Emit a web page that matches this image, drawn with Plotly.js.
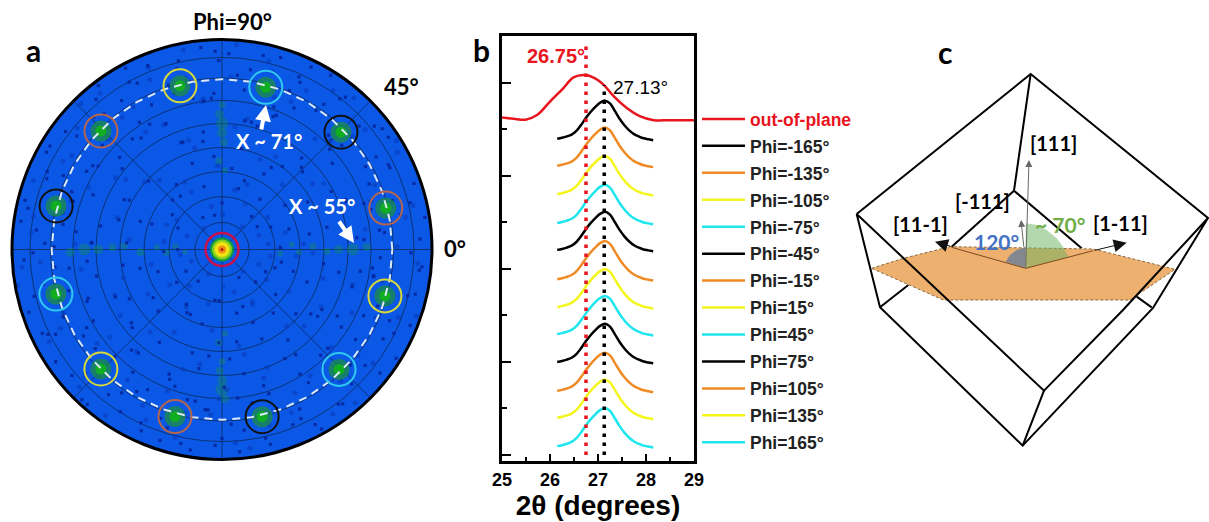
<!DOCTYPE html>
<html><head><meta charset="utf-8">
<script src="https://cdn.plot.ly/plotly-3.0.1.min.js"></script>
<style>html,body{margin:0;padding:0;background:#fff}#g{width:1209px;height:522px}</style>
</head><body><div id="g"></div>
<script>
// ---------- panel a: pole figure ----------
const gridChi=[11.6,22.7,33.4,43.7,54,63.9,73.5,82.3];
const spokeAngles=[0,45,90,135,180,225,270,315];
const ringTheta=[0,10,20,30,40,50,60,70,80,90,100,110,120,130,140,150,160,170,180,190,200,210,220,230,240,250,260,270,280,290,300,310,320,330,340,350,360];
const ringChi=73;
const peakPhi=[74.9,44.6,14.2,-15.9,-45.7,-76.5,-105.7,-135.4,-165,165.3,135.6,104.4];
const peakChi=[72,71.6,72.4,72.6,71.8,73.7,74.4,72.9,73.7,73.5,72.6,72.4];
const peakRing=['#2fc8ee','#111111','#b5654c','#d8d83a','#2fc8ee','#111111','#b5654c','#d8d83a','#2fc8ee','#111111','#b5654c','#d8d83a'];
const patchPhi=[90,90,91,89,90,270,270,271,269,270,180,180,181,179,178,182,0,0,1,359,2,358,178,183,176,184,4,356,92,88,268,272];
const patchChi=[50,54,58,46,62,56,60,64,52,48,53,59,65,47,42,35,50,56,62,45,39,33,28,24,20,16,30,25,38,34,40,36];
const patchSize=[10,12,9,8,7,10,13,9,8,7,10,12,9,8,7,8,9,12,8,7,7,6,6,7,6,5,6,6,7,6,7,6];
const speckPhi=[3,11,19,27,34,42,51,58,66,73,81,88,96,104,112,119,127,134,143,151,158,166,174,183,191,198,206,214,222,229,238,246,253,261,268,277,284,292,299,307,314,322,331,338,346,354,
7,15,24,31,47,55,63,70,85,93,101,108,116,123,131,139,147,155,162,171,178,187,195,203,210,218,226,234,242,250,257,265,273,281,288,296,303,311,318,326,335,342,350,357,
5,22,38,49,68,77,99,114,129,141,157,169,185,201,219,231,248,259,271,287,305,317,329,344,
12,29,44,61,79,95,110,125,137,153,176,193,208,224,236,255,263,279,294,309,324,339,352,
2,17,33,53,72,90,106,121,145,160,180,199,216,233,244,267,283,301,320,333,348,
9,37,64,92,118,149,172,205,227,252,275,298,328,355,
14,26,39,52,65,78,91,103,117,130,142,156,168,181,194,207,220,232,245,258,270,283,295,308,321,334,347,359,
6,18,30,43,56,69,82,94,107,120,133,146,159,173,186,200,212,225,239,251,264,276,289,302,315,327,340,353,
21,46,74,100,126,152,177,204,228,254,280,306,330,349,
10,35,59,83,109,135,161,189,215,241,268,293,319,343,
4,16,28,41,54,67,80,97,111,124,138,150,164,179,192,209,221,235,247,260,274,286,300,313,325,337,351,
25,48,75,102,128,154,182,211,237,262,290,316,341];
const speckChi=[85,78,87,80,86,79,84,88,81,86,78,84,87,80,85,82,88,79,84,86,81,87,80,85,78,87,83,86,79,88,82,85,80,87,84,78,86,81,88,83,80,86,79,87,82,85,
68,66,69,77,67,76,68,65,75,67,66,74,69,65,77,68,66,75,67,69,76,66,68,74,67,69,76,65,68,77,66,69,75,67,65,76,68,66,74,69,67,75,66,68,
58,57,60,52,62,56,51,59,61,55,60,53,58,62,50,57,60,52,59,61,55,62,50,58,
46,42,48,37,44,40,49,34,43,47,41,36,45,38,48,33,46,40,42,35,47,39,44,
25,30,18,27,31,20,28,16,26,32,19,29,24,17,31,22,28,14,30,21,26,
88,86,87,85,88,86,87,85,88,86,87,85,88,86,
83,80,84,82,79,85,81,83,80,84,79,82,85,81,83,80,84,79,82,85,81,83,80,84,79,82,85,81,
70,64,71,63,72,61,69,65,70,62,71,64,69,63,72,61,70,65,71,62,69,64,72,63,70,61,71,65,
57,49,55,47,59,45,56,50,58,46,54,48,57,51,
38,33,41,35,39,30,37,43,36,31,40,34,42,32,
61,76,53,68,44,74,56,64,49,77,59,67,46,72,55,63,51,75,58,66,47,73,54,62,50,78,60,
23,19,27,15,29,21,25,18,28,22,26,20,24];
const mottlePhi=[1,8,13,20,23,32,36,40,45,49,57,62,67,71,76,84,87,98,101,105,113,115,122,128,132,136,140,144,148,155,160,163,167,175,177,184,188,190,196,202,208,213,217,223,230,235,240,243,249,256,259,266,272,278,282,285,291,297,304,310,312,318,323,330,336,341,345,350,356,358,
4,10,15,18,29,33,41,47,50,55,60,65,69,74,79,86,93,97,102,107,112,119,123,127,134,139,146,151,156,162,170,174,178,185,192,197,203,206,211,218,224,229,234,238,246,252,257,263,269,274,280,288,293,299,305,311,317,322,328,334,339,344,349,355,
7,21,35,48,63,78,89,104,118,131,147,159,172,187,201,214,228,241,256,272,286,300,314,326,338,352];
const mottleChi=[75,62,84,55,71,88,48,80,66,86,58,77,42,69,83,53,74,64,87,45,79,59,72,85,40,68,81,51,76,63,86,47,70,82,56,78,61,89,44,73,84,52,67,80,57,87,41,75,65,83,50,71,60,86,46,78,54,69,85,43,76,63,81,49,72,88,58,66,84,39,
35,80,28,67,86,52,74,38,62,83,46,70,30,79,57,88,36,65,75,49,84,33,60,71,87,44,55,78,26,68,82,40,63,86,31,73,50,77,37,61,85,47,69,29,80,54,72,35,64,83,42,58,76,27,66,87,48,74,34,62,81,45,70,32,
20,17,24,13,22,26,15,19,28,12,23,16,25,18,14,27,21,12,24,16,19,26,13,23,17,21];
// ---------- panel b: theta-2theta profiles ----------
const twoTheta=[26.15,26.25,26.35,26.45,26.55,26.65,26.75,26.85,26.95,27.05,27.15,27.25,27.35,27.45,27.55,27.65,27.75,27.85,27.95,28.05,28.15];
const oopTheta=[25,25.24,25.49,25.73,26,26.28,26.49,26.74,26.94,27.12,27.33,27.6,27.88,28.16,28.5,29];
const oopIntensity=[7.26,7.23,7.21,7.31,7.6,7.89,8.12,8.17,8.1,7.96,7.71,7.46,7.28,7.2,7.2,7.2];
const phim165=[6.80,6.82,6.85,6.89,6.97,7.10,7.25,7.38,7.49,7.58,7.62,7.56,7.40,7.23,7.09,6.98,6.90,6.85,6.81,6.79,6.77];
const phim135=[6.22,6.24,6.27,6.31,6.39,6.52,6.67,6.80,6.91,7.00,7.04,6.98,6.82,6.65,6.51,6.40,6.32,6.27,6.23,6.21,6.19];
const phim105=[5.61,5.63,5.66,5.70,5.78,5.91,6.06,6.19,6.30,6.39,6.43,6.37,6.21,6.04,5.90,5.79,5.71,5.66,5.62,5.60,5.58];
const phim75=[4.99,5.01,5.04,5.08,5.16,5.29,5.44,5.57,5.68,5.77,5.81,5.75,5.59,5.42,5.28,5.17,5.09,5.04,5.00,4.98,4.96];
const phim45=[4.41,4.43,4.46,4.50,4.58,4.71,4.86,4.99,5.10,5.19,5.23,5.17,5.01,4.84,4.70,4.59,4.51,4.46,4.42,4.40,4.38];
const phim15=[3.78,3.80,3.83,3.87,3.95,4.08,4.23,4.36,4.47,4.56,4.60,4.54,4.38,4.21,4.07,3.96,3.88,3.83,3.79,3.77,3.75];
const phi15=[3.18,3.20,3.23,3.27,3.35,3.48,3.63,3.76,3.87,3.96,4.00,3.94,3.78,3.61,3.47,3.36,3.28,3.23,3.19,3.17,3.15];
const phi45=[2.60,2.62,2.65,2.69,2.77,2.90,3.05,3.18,3.29,3.38,3.42,3.36,3.20,3.03,2.89,2.78,2.70,2.65,2.61,2.59,2.57];
const phi75=[2.00,2.02,2.05,2.09,2.17,2.30,2.45,2.58,2.69,2.78,2.82,2.76,2.60,2.43,2.29,2.18,2.10,2.05,2.01,1.99,1.97];
const phi105=[1.38,1.40,1.43,1.47,1.55,1.68,1.83,1.96,2.07,2.16,2.20,2.14,1.98,1.81,1.67,1.56,1.48,1.43,1.39,1.37,1.35];
const phi135=[0.80,0.82,0.85,0.89,0.97,1.10,1.25,1.38,1.49,1.58,1.62,1.56,1.40,1.23,1.09,0.98,0.90,0.85,0.81,0.79,0.77];
const phi165=[0.19,0.21,0.24,0.28,0.36,0.49,0.64,0.77,0.88,0.97,1.01,0.95,0.79,0.62,0.48,0.37,0.29,0.24,0.20,0.18,0.16];
const profiles=[phim165,phim135,phim105,phim75,phim45,phim15,phi15,phi45,phi75,phi105,phi135,phi165];
const profileNames=['-165','-135','-105','-75','-45','-15','15','45','75','105','135','165'];
const profileColors=['#000000','#f08a24','#f5f51e','#1ee6ee','#000000','#f08a24','#f5f51e','#1ee6ee','#000000','#f08a24','#f5f51e','#1ee6ee'];
// ---------- panel c: crystal sketch ----------
const backX=[572,522,null,522,330,null,522,725,null,120,205,null,935,890];
const backY=[42,392,null,392,565,null,392,565,null,742,675,null,742,710];
const planeX=[95,190,330,760,1005,870,310,95];
const planeY=[625,595,560,567,628,720,720,625];
const frontX=[50,572,1104,849,612,50,120,548,939,1104,null,612,548];
const frontY=[462,42,474,750,992,462,742,1157,744,474,null,992,1157];
const bondX=[335,557,760];
const bondY=[562,625,572];
const greenX=[557,557,590,620,650,672,685];
const greenY=[625,490,495,510,535,565,590];
const grayX=[557,497,510,530,557];
const grayY=[625,605,585,570,562];

const S='Liberation Sans', C='Lato';
const traces=[];
// a
traces.push({type:'scatterpolar',subplot:'polar',mode:'markers',r:patchChi,theta:patchPhi,showlegend:false,hoverinfo:'skip',
  marker:{size:patchSize,color:'#128a5c',opacity:0.42,line:{width:0}}});
traces.push({type:'scatterpolar',subplot:'polar',mode:'markers',r:mottleChi,theta:mottlePhi,showlegend:false,hoverinfo:'skip',
  marker:{size:5,color:'#0838b8',opacity:0.55,line:{width:0}}});
traces.push({type:'scatterpolar',subplot:'polar',mode:'markers',r:speckChi,theta:speckPhi,showlegend:false,hoverinfo:'skip',
  marker:{size:3.2,symbol:'square',color:'#04249c',opacity:0.88,line:{width:0}}});
traces.push({type:'scatterpolar',subplot:'polar',mode:'markers',r:peakChi,theta:peakPhi,showlegend:false,hoverinfo:'skip',
  marker:{size:21,color:'#1a8a4c',opacity:0.8,line:{width:0}}});
traces.push({type:'scatterpolar',subplot:'polar',mode:'markers',r:peakChi,theta:peakPhi,showlegend:false,hoverinfo:'skip',
  marker:{size:11,color:'#10ae20',line:{width:0}}});
traces.push({type:'scatterpolar',subplot:'polar',mode:'lines',r:ringTheta.map(()=>ringChi),theta:ringTheta,showlegend:false,hoverinfo:'skip',
  line:{color:'#dbe8fb',width:2,dash:'8px,6px'}});
traces.push({type:'scatterpolar',subplot:'polar',mode:'markers',r:peakChi,theta:peakPhi,showlegend:false,hoverinfo:'skip',
  marker:{size:33,symbol:'circle-open',color:peakRing,line:{width:2,color:peakRing}}});
[[24,'#129a3a'],[20,'#8cd020'],[15,'#f2e412'],[8,'#f09010'],[3,'#b02010']].forEach(m=>{
  traces.push({type:'scatterpolar',subplot:'polar',mode:'markers',r:[0],theta:[0],showlegend:false,hoverinfo:'skip',marker:{size:m[0],color:m[1],line:{width:0}}});
});
traces.push({type:'scatterpolar',subplot:'polar',mode:'markers',r:[0],theta:[0],showlegend:false,hoverinfo:'skip',
  marker:{size:33,symbol:'circle-open',color:'#c8104a',line:{width:2.5,color:'#c8104a'}}});
// b
traces.push({x:oopTheta,y:oopIntensity,xaxis:'x2',yaxis:'y2',mode:'lines',line:{color:'#e8141e',width:2.5,shape:'spline'},
  name:'<span style="color:#e8141e">out-of-plane</span>',legendgroup:'oop'});
profiles.forEach((p,i)=>traces.push({x:twoTheta,y:p,xaxis:'x2',yaxis:'y2',mode:'lines',
  line:{color:profileColors[i],width:2.5,shape:'spline'},name:'Phi='+profileNames[i]+'°',legendgroup:'g'+i}));
traces.push({x:[26.75,26.75],y:[0,8.9],xaxis:'x2',yaxis:'y2',mode:'lines',showlegend:false,hoverinfo:'skip',
  line:{color:'#e8141e',width:3.5,dash:'3.5px,5.5px'}});
traces.push({x:[27.13,27.13],y:[0,7.95],xaxis:'x2',yaxis:'y2',mode:'lines',showlegend:false,hoverinfo:'skip',
  line:{color:'#000000',width:3.5,dash:'3.5px,5.5px'}});
// c
const cT={xaxis:'x3',yaxis:'y3',showlegend:false,hoverinfo:'skip'};
traces.push({...cT,x:backX,y:backY,mode:'lines',line:{color:'#000',width:2}});
traces.push({...cT,x:planeX,y:planeY,mode:'lines',fill:'toself',fillcolor:'#eeb06e',line:{color:'#8a6a40',width:1,dash:'3px,2px'}});
traces.push({...cT,x:grayX,y:grayY,mode:'lines',fill:'toself',fillcolor:'rgba(112,128,150,0.85)',line:{width:0}});
traces.push({...cT,x:greenX,y:greenY,mode:'lines',fill:'toself',fillcolor:'rgba(110,180,100,0.52)',line:{width:0}});
traces.push({...cT,x:bondX,y:bondY,mode:'lines',line:{color:'#7a4a22',width:1}});
traces.push({...cT,x:frontX,y:frontY,mode:'lines',line:{color:'#000',width:2}});

const px=v=>v/1209, py=v=>1-v/522;
const pa=(text,x,y,size,color,fam,bold)=>({text:bold===false?text:'<b>'+text+'</b>',xref:'paper',yref:'paper',x:px(x),y:py(y),xanchor:'center',yanchor:'middle',showarrow:false,
  font:{family:fam||C,size:size,color:color||'#000'}});
const ca=(text,x,y,size,color)=>({text:'<b>'+text+'</b>',xref:'x3',yref:'y3',x:x,y:y,xanchor:'center',yanchor:'middle',showarrow:false,
  font:{family:C,size:size,color:color||'#000'}});
const arrow=(x0,y0,x1,y1,color,w,size,h)=>({xref:'x3',yref:'y3',axref:'x3',ayref:'y3',x:x1,y:y1,ax:x0,ay:y0,text:'',showarrow:true,arrowhead:h||2,arrowsize:size,arrowwidth:w,arrowcolor:color});
const wArrow=(x0,y0,x1,y1)=>({xref:'paper',yref:'paper',axref:'pixel',ayref:'pixel',x:px(x1),y:py(y1),ax:x0-x1,ay:y0-y1,text:'',showarrow:true,arrowhead:2,arrowsize:0.8,arrowwidth:4,arrowcolor:'#fff'});
const annotations=[
  pa('Phi=90°',232,21,22),
  pa('a',33,50,30), pa('b',481,50,30), pa('c',945,52,30),
  pa('45°',401,86,22), pa('0°',455,248,22),
  pa('X ~ 71°',269,141,20,'#fff'), pa('X ~ 55°',322,206,20,'#fff'),
  wArrow(261,131,266,105), wArrow(338,220,354,243),
  pa('26.75°',556,56,20,'#e8141e',S),
  pa('27.13°',640,88,19,'#000',S,false),
  ca('[111]',640,250,20), ca('[-111]',428,422,20), ca('[11-1]',242,493,20), ca('[1-11]',840,490,20),
  ca('120°',470,545,21,'#4472c4'), ca('~ 70°',660,492,21,'#70ad47'),
  arrow(557,625,567,300,'#666',1,1.4), arrow(552,565,543,480,'#666',1,1.4),
  arrow(335,560,285,545,'#111',1,2.6), arrow(760,572,860,548,'#111',1,2.6)
];
const layout={
  width:1209,height:522,margin:{l:0,r:0,t:0,b:0},paper_bgcolor:'#fff',plot_bgcolor:'#fff',
  font:{family:S,color:'#000'},
  polar:{domain:{x:[px(12),px(432)],y:[py(459.5),py(39.5)]},bgcolor:'#0b58e6',
    radialaxis:{range:[0,90],tickvals:gridChi,showticklabels:false,ticks:'',showline:false,gridcolor:'rgba(10,40,90,0.8)',gridwidth:1},
    angularaxis:{tickvals:spokeAngles,showticklabels:false,ticks:'',linecolor:'#000',linewidth:3,gridcolor:'rgba(10,40,90,0.8)',gridwidth:1}},
  xaxis2:{domain:[px(502),px(694)],range:[25,29],anchor:'y2',tickvals:[25,26,27,28,29],ticks:'inside',ticklen:7,tickwidth:2,tickcolor:'#000',
    minor:{dtick:0.5,tick0:25,ticks:'inside',ticklen:4,tickwidth:2,tickcolor:'#000',showgrid:false},
    showgrid:false,zeroline:false,showline:true,mirror:true,linecolor:'#000',linewidth:3,
    tickfont:{family:S,size:18,weight:700},ticklabelstandoff:0,
    title:{text:'<b>2θ (degrees)</b>',font:{family:S,size:28},standoff:7}},
  yaxis2:{domain:[py(461),py(36)],range:[-0.13,9.01],anchor:'x2',tick0:0,dtick:2,ticks:'inside',ticklen:9,tickwidth:2,tickcolor:'#000',
    minor:{dtick:1,tick0:0,ticks:'inside',ticklen:5,tickwidth:2,tickcolor:'#000',showgrid:false},
    showticklabels:false,showgrid:false,zeroline:false,showline:true,mirror:true,linecolor:'#000',linewidth:3},
  xaxis3:{domain:[px(840),px(1209)],range:[0,1107],anchor:'y3',visible:false,fixedrange:true},
  yaxis3:{domain:[py(460),py(60)],range:[1200,0],anchor:'x3',visible:false,fixedrange:true},
  showlegend:true,
  legend:{x:px(697),y:py(101),xanchor:'left',yanchor:'top',itemwidth:43,tracegroupgap:1.2,bgcolor:'rgba(0,0,0,0)',borderwidth:0,
    font:{family:S,size:17.5,weight:700,color:'#222'},itemclick:false,itemdoubleclick:false},
  annotations:annotations
};
Plotly.newPlot('g',traces,layout,{displayModeBar:false,staticPlot:true});
</script></body></html>
